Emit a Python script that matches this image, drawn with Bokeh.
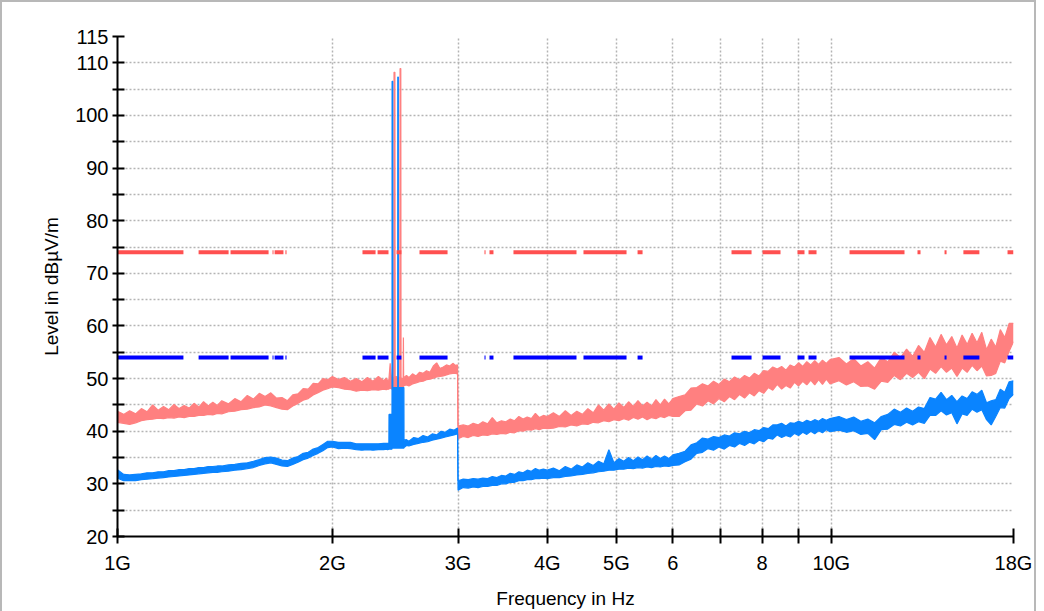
from bokeh.plotting import figure
from bokeh.models import FixedTicker
from bokeh.embed import file_html
from bokeh.resources import INLINE

# ---------------- data (frequencies in GHz, levels in dBuV/m) ----------------
# Each trace is a noisy band: its upper and lower edge.
grid_low = [1.00, 1.02, 1.04, 1.06, 1.08, 1.10, 1.12, 1.14, 1.16, 1.18, 1.20,
            1.22, 1.24, 1.26, 1.28, 1.30, 1.32, 1.34, 1.36, 1.38, 1.40,
            1.43, 1.46, 1.49, 1.52, 1.55, 1.58, 1.61, 1.64, 1.67, 1.70,
            1.73, 1.76, 1.79, 1.82, 1.85, 1.88, 1.91, 1.94, 1.97, 2.00,
            2.04, 2.08, 2.12, 2.16, 2.20, 2.24, 2.28, 2.32, 2.36, 2.38, 2.39]

peak_top_low = [43.8, 43.2, 43.9, 43.3, 44.3, 43.7, 45.0, 44.0, 44.7, 44.1, 45.1,
                44.3, 44.9, 44.4, 45.3, 44.6, 45.6, 44.8, 45.5, 44.9, 45.8,
                45.2, 46.2, 45.6, 46.8, 46.1, 47.2, 46.6, 47.3, 46.3, 46.4,
                45.8, 46.9, 47.1, 48.1, 48.0, 49.1, 49.0, 50.0, 49.8, 50.4,
                49.8, 50.2, 49.5, 50.0, 49.4, 50.2, 49.5, 50.4, 49.6, 50.1, 49.6]
peak_bot_low = [41.7, 41.5, 41.3, 41.6, 42.0, 42.2, 42.3, 42.5, 42.4, 42.6, 42.5,
                42.7, 42.6, 42.8, 42.8, 43.0, 43.0, 43.2, 43.1, 43.4, 43.3,
                43.7, 43.8, 44.1, 44.2, 44.5, 44.6, 45.0, 44.8, 44.5, 44.2,
                44.1, 44.8, 45.3, 45.9, 46.2, 46.9, 47.3, 47.8, 48.1, 48.4,
                48.3, 48.0, 47.9, 47.6, 47.8, 47.7, 47.9, 47.8, 48.0, 47.9, 48.0]

avg_top_low = [32.7, 31.8, 31.7, 31.8, 31.9, 32.1, 32.1, 32.3, 32.3, 32.5, 32.5,
               32.7, 32.7, 32.9, 32.9, 33.1, 33.1, 33.3, 33.3, 33.4, 33.4,
               33.6, 33.7, 33.9, 34.0, 34.3, 34.6, 35.0, 35.1, 34.9, 34.5,
               34.4, 34.9, 35.2, 35.8, 36.0, 36.6, 36.9, 37.5, 38.1, 38.1,
               37.9, 37.9, 37.9, 37.6, 37.6, 37.6, 37.6, 37.6, 37.7, 37.7, 37.7]
avg_bot_low = [31.1, 30.6, 30.6, 30.6, 30.8, 30.9, 31.0, 31.1, 31.2, 31.3, 31.4,
               31.5, 31.6, 31.7, 31.8, 31.9, 32.0, 32.1, 32.2, 32.2, 32.3,
               32.4, 32.6, 32.7, 32.9, 33.1, 33.5, 33.8, 34.0, 33.7, 33.4,
               33.3, 33.7, 34.1, 34.6, 34.9, 35.4, 35.8, 36.3, 36.9, 37.0,
               36.7, 36.8, 36.7, 36.5, 36.4, 36.5, 36.4, 36.5, 36.5, 36.6, 36.5]

# 2.4 GHz band: carrier spikes
peak_mid_freq = [2.400, 2.410, 2.420, 2.430, 2.438, 2.440, 2.447, 2.449, 2.460,
                 2.470, 2.480, 2.486, 2.488, 2.494, 2.496, 2.505, 2.513, 2.515,
                 2.517, 2.525, 2.540, 2.560, 2.590, 2.620, 2.650, 2.680, 2.710,
                 2.740, 2.770, 2.800, 2.830, 2.860, 2.890, 2.920, 2.950, 2.975,
                 2.995]
peak_top_mid = [49.8, 52.9, 50.0, 50.2, 49.9, 108.2, 108.2, 50.2, 50.4,
                49.8, 50.3, 50.0, 108.9, 108.9, 50.2, 49.9, 50.0, 57.8,
                50.0, 50.3, 50.6, 50.2, 50.9, 50.5, 51.2, 51.0, 51.5,
                51.2, 52.4, 53.0, 51.9, 52.2, 52.6, 52.4, 52.9, 52.5,
                52.6]
peak_bot_mid = [48.0, 48.2, 48.0, 48.3, 48.1, 48.2, 48.4, 48.3, 48.5,
                48.2, 48.4, 48.3, 48.6, 48.6, 48.5, 48.3, 48.4, 48.5,
                48.6, 48.7, 48.8, 48.6, 49.0, 49.2, 49.4, 49.5, 49.8,
                49.9, 50.1, 50.3, 50.4, 50.5, 50.7, 50.9, 51.0, 51.0,
                50.9]

avg_mid_freq = [2.400, 2.401, 2.424, 2.4245, 2.4250, 2.4300, 2.4305, 2.4695,
                2.4700, 2.4740, 2.4745, 2.519, 2.520, 2.540, 2.560, 2.600,
                2.640, 2.680, 2.720, 2.760, 2.800, 2.840, 2.880, 2.920, 2.960,
                2.995]
avg_top_mid = [37.7, 43.2, 43.2, 48.3, 106.5, 106.5, 48.3, 48.3,
               107.3, 107.3, 48.3, 48.3, 38.3, 38.4, 38.1, 38.8,
               38.6, 39.2, 38.9, 39.5, 39.3, 40.0, 39.8, 40.4, 40.2,
               40.6]
avg_bot_mid = [36.6, 36.6, 36.6, 36.8, 36.8, 36.8, 36.8, 36.8,
               36.8, 36.8, 36.8, 36.8, 36.9, 37.3, 37.2, 37.5,
               37.7, 37.9, 38.0, 38.3, 38.5, 38.7, 38.9, 39.1, 39.3,
               39.5]

grid_high = [3.00, 3.05, 3.10, 3.15, 3.20, 3.25, 3.30, 3.35, 3.40, 3.45, 3.50,
             3.55, 3.60, 3.65, 3.70, 3.75, 3.80, 3.85, 3.90, 3.95, 4.00,
             4.08, 4.16, 4.24, 4.32, 4.40, 4.48, 4.56, 4.64, 4.72, 4.80, 4.88,
             4.96, 5.04, 5.12, 5.20, 5.28, 5.36, 5.44, 5.52, 5.60, 5.68, 5.76,
             5.84, 5.92, 6.00,
             6.12, 6.24, 6.36, 6.48, 6.60, 6.72, 6.84, 6.96, 7.08, 7.20, 7.32,
             7.44, 7.56, 7.68, 7.80, 7.92, 8.04, 8.16, 8.28, 8.40, 8.52, 8.64,
             8.76, 8.88, 9.00, 9.12, 9.24, 9.36, 9.48, 9.60, 9.72, 9.84, 9.96,
             10.25, 10.50, 10.75, 11.00, 11.25, 11.50, 11.75, 12.00, 12.25,
             12.50, 12.75, 13.00, 13.25, 13.50, 13.75, 14.00, 14.25, 14.50,
             14.75, 15.00, 15.25, 15.50, 15.75, 16.00, 16.25, 16.50, 16.75,
             17.00, 17.25, 17.50, 17.75, 18.00]

peak_top_high = [41.0, 41.2, 41.0, 41.5, 41.2, 41.8, 41.4, 42.6, 41.6, 42.0, 41.8,
                 42.3, 42.0, 42.8, 42.3, 42.7, 42.4, 43.4, 42.6, 43.0, 42.8,
                 43.5, 42.8, 43.9, 43.0, 43.8, 43.2, 44.3, 43.5, 45.0, 44.0, 45.2,
                 44.2, 45.4, 44.5, 45.6, 44.7, 45.8, 44.8, 45.5, 44.8, 46.0, 45.0,
                 46.1, 45.2, 46.2,
                 46.6, 46.9, 48.2, 48.3, 49.0, 48.6, 49.5, 48.9, 49.9, 49.4, 50.3,
                 49.8, 50.6, 50.1, 51.0, 50.5, 51.5, 51.4, 52.2, 51.8, 52.3, 51.6,
                 52.6, 52.2, 53.0, 52.3, 53.2, 52.6, 53.4, 52.7, 53.5, 52.9, 53.6,
                 54.0, 52.8, 53.8, 52.4, 53.2, 52.0, 54.0, 53.2, 55.0,
                 54.0, 55.6, 54.2, 56.3, 55.0, 57.8, 56.0, 58.4, 56.4,
                 58.0, 55.8, 58.3, 56.5, 58.6, 56.8, 58.8, 55.5, 57.5,
                 56.0, 59.3, 57.8, 60.5, 60.5]
peak_bot_high = [38.6, 39.0, 38.8, 39.2, 39.0, 39.3, 39.2, 39.5, 39.4, 39.6, 39.5,
                 39.8, 39.7, 40.1, 40.0, 40.3, 40.2, 40.5, 40.3, 40.6, 40.5,
                 40.6, 40.9, 40.8, 41.2, 41.0, 41.4, 41.3, 41.7, 41.6, 42.0, 41.8,
                 42.2, 42.0, 42.4, 42.1, 42.6, 42.3, 42.7, 42.2, 42.6, 42.4, 42.8,
                 42.6, 43.0, 42.8,
                 42.8, 43.9, 44.0, 45.2, 44.8, 45.8, 45.2, 46.2, 45.6, 46.6, 46.0,
                 47.0, 46.3, 47.3, 46.7, 47.7, 47.2, 48.3, 47.8, 48.9, 48.0, 48.7,
                 48.2, 49.3, 48.6, 49.5, 48.8, 49.7, 48.8, 49.8, 48.9, 49.9, 49.0,
                 49.6, 48.8, 49.4, 48.5, 48.6, 48.0, 49.5, 49.3, 50.6,
                 49.8, 51.0, 50.2, 51.2, 50.0, 51.8, 51.0, 52.3, 51.2,
                 52.0, 50.4, 52.0, 51.2, 52.5, 51.5, 52.4, 50.5, 50.6,
                 51.0, 53.3, 53.0, 55.2, 57.0]

avg_top_high = [30.6, 30.9, 30.8, 31.0, 30.9, 31.1, 31.0, 31.4, 31.2, 31.6, 31.5,
                32.0, 31.8, 32.3, 32.1, 32.6, 32.4, 32.9, 32.6, 32.8, 32.6,
                33.0, 32.5, 33.3, 32.8, 33.6, 33.2, 34.0, 33.5, 34.3, 33.8, 36.5,
                34.0, 34.8, 34.3, 35.0, 34.4, 35.1, 34.6, 35.3, 34.7, 35.4, 34.8,
                35.3, 34.8, 35.5,
                35.8, 36.2, 37.4, 37.8, 38.7, 38.5, 39.0, 38.8, 39.3, 39.1, 39.7,
                39.5, 40.0, 39.7, 40.3, 40.1, 40.7, 40.5, 41.2, 41.2, 41.5, 41.0,
                41.6, 41.5, 41.9, 41.6, 42.1, 41.8, 42.2, 41.9, 42.4, 42.1, 42.4,
                42.8, 42.2, 42.7, 41.9, 42.3, 41.6, 42.8, 43.2, 44.2,
                43.6, 44.4, 43.8, 44.6, 44.3, 46.4, 46.1, 47.4, 46.0,
                46.8, 45.6, 46.7, 46.2, 47.5, 47.0, 47.8, 45.4, 45.8,
                46.0, 48.0, 47.4, 49.4, 49.6]
avg_bot_high = [28.8, 29.3, 29.2, 29.4, 29.3, 29.5, 29.5, 29.7, 29.7, 30.0, 30.0,
                30.3, 30.3, 30.6, 30.6, 30.8, 30.8, 31.0, 31.0, 31.1, 31.0,
                31.2, 31.2, 31.4, 31.5, 31.7, 31.8, 32.0, 32.1, 32.3, 32.4, 32.6,
                32.6, 32.8, 32.8, 33.0, 32.9, 33.1, 33.0, 33.2, 33.1, 33.3, 33.2,
                33.4, 33.3, 33.5,
                33.6, 34.2, 34.7, 35.8, 36.0, 36.7, 36.4, 37.0, 36.6, 37.3, 37.0,
                37.7, 37.3, 37.9, 37.6, 38.3, 38.0, 38.7, 38.5, 39.3, 38.8, 39.2,
                38.9, 39.6, 39.2, 39.8, 39.4, 40.0, 39.5, 40.1, 39.7, 40.3, 39.9,
                40.2, 39.8, 40.1, 39.4, 39.6, 38.4, 40.3, 40.4, 41.3,
                41.0, 41.7, 41.2, 41.8, 41.5, 43.0, 43.0, 43.9, 43.1,
                43.5, 41.4, 43.3, 43.0, 44.2, 43.6, 44.1, 42.2, 41.2,
                42.8, 44.5, 44.4, 46.2, 47.0]

# limit lines (drawn in pieces, as in the original)
limit_peak = 74
limit_avg = 54
limit_start = [1.000, 1.299, 1.440, 1.649, 1.660, 1.719, 2.204, 2.314, 2.460,
               2.649, 3.267, 3.320, 3.587, 4.496, 5.353, 7.248, 8.011, 8.967,
               9.292, 10.606, 13.206, 14.410, 15.313, 17.657]
limit_end = [1.237, 1.431, 1.628, 1.654, 1.708, 1.725, 2.299, 2.397, 2.499,
             2.900, 3.278, 3.363, 4.396, 5.166, 5.440, 7.732, 8.489, 9.172,
             9.535, 12.664, 13.335, 14.504, 16.124, 18.000]

x_ticks = [1, 2, 3, 4, 5, 6, 7, 8, 9, 10, 18]
x_labels = ["1G", "2G", "3G", "4G", "5G", "6", "", "8", "", "10G", "18G"]
y_ticks = [20, 25, 30, 35, 40, 45, 50, 55, 60, 65, 70, 75, 80, 85, 90, 95,
           100, 105, 110, 115]
y_labels = ["20", "", "30", "", "40", "", "50", "", "60", "", "70", "", "80",
            "", "90", "", "100", "", "110", "115"]

# ---------------- assemble ----------------
peak_f = grid_low + peak_mid_freq + grid_high
peak_top = peak_top_low + peak_top_mid + peak_top_high
peak_bot = peak_bot_low + peak_bot_mid + peak_bot_high
avg_f = grid_low + avg_mid_freq + grid_high
avg_top = avg_top_low + avg_top_mid + avg_top_high
avg_bot = avg_bot_low + avg_bot_mid + avg_bot_high
assert len(peak_f) == len(peak_top) == len(peak_bot), (len(peak_f), len(peak_top), len(peak_bot))
assert len(avg_f) == len(avg_top) == len(avg_bot), (len(avg_f), len(avg_top), len(avg_bot))

FONT = "Liberation Sans"
PINK = "#ff8080"
BLUE = "#0a84ff"

p = figure(frame_width=896, frame_height=500, x_axis_type="log",
           x_range=(1, 18), y_range=(20, 115),
           output_backend="svg", toolbar_location=None,
           min_border_left=115, min_border_right=21,
           min_border_top=34, min_border_bottom=69)
p.outline_line_color = None
p.background_fill_color = "white"
p.border_fill_color = "white"
p.styles = {"border": "2px solid #b8b8b8"}

p.varea(x=peak_f, y1=peak_bot, y2=peak_top, fill_color=PINK)
p.line(peak_f, peak_top, line_color=PINK, line_width=1.2)
p.line(peak_f, peak_bot, line_color=PINK, line_width=1.2)
p.varea(x=avg_f, y1=avg_bot, y2=avg_top, fill_color=BLUE)
p.line(avg_f, avg_top, line_color=BLUE, line_width=1.2)
p.line(avg_f, avg_bot, line_color=BLUE, line_width=1.2)

p.segment(x0=limit_start, x1=limit_end,
          y0=[limit_peak] * len(limit_start), y1=[limit_peak] * len(limit_start),
          line_color="#ff5050", line_width=4)
p.segment(x0=limit_start, x1=limit_end,
          y0=[limit_avg] * len(limit_start), y1=[limit_avg] * len(limit_start),
          line_color="#0000ff", line_width=4)

xa = p.xaxis[0]
xa.ticker = FixedTicker(ticks=x_ticks)
xa.major_label_overrides = dict(zip(x_ticks, x_labels))
ya = p.yaxis[0]
ya.ticker = FixedTicker(ticks=y_ticks)
ya.major_label_overrides = dict(zip(y_ticks, y_labels))

for ax in (xa, ya):
    ax.axis_line_color = "black"
    ax.axis_line_width = 2
    ax.major_tick_line_color = "black"
    ax.major_tick_line_width = 2
    ax.minor_tick_line_color = None
    ax.major_label_text_font = FONT
    ax.major_label_text_font_size = "20px"
    ax.major_label_text_color = "black"
    ax.axis_label_text_font = FONT
    ax.axis_label_text_font_size = "19px"
    ax.axis_label_text_font_style = "normal"
    ax.axis_label_text_color = "black"

xa.major_tick_in = 8
xa.major_tick_out = 7
xa.major_label_standoff = 8
xa.axis_label = "Frequency in Hz"
xa.axis_label_standoff = 11

ya.major_tick_in = 7
ya.major_tick_out = 5
ya.major_label_standoff = 4
ya.axis_label = "Level in dBµV/m"
ya.axis_label_standoff = 10

for g in (p.xgrid[0], p.ygrid[0]):
    g.grid_line_color = "#b4b4b4"
    g.grid_line_width = 1.5
    g.grid_line_dash = "2 2"

open("out.html", "w").write(file_html(p, INLINE))
